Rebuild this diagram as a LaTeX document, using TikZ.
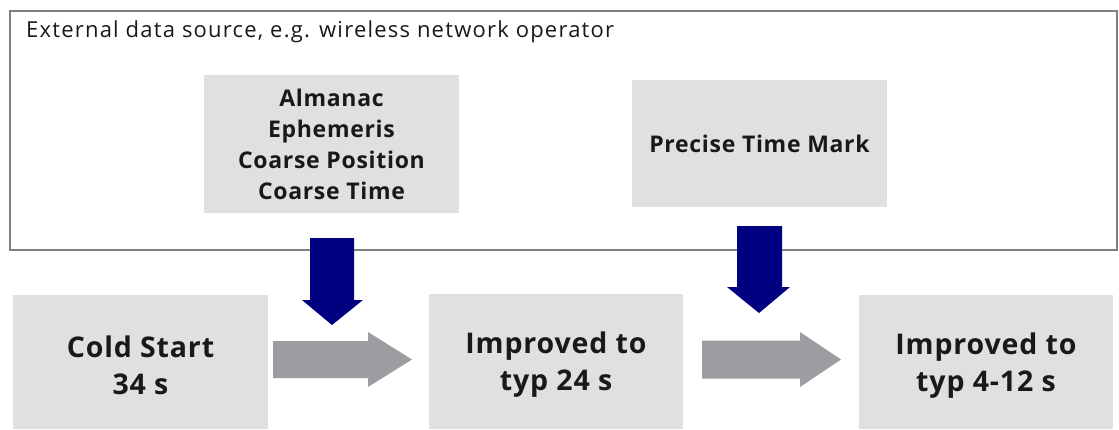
\documentclass[tikz,border=0pt]{standalone}
\usepackage{fontspec}
\setmainfont{Open Sans}
\newfontfamily\hdrfont[LetterSpace=5.5]{Open Sans}
\newfontfamily\infofont[LetterSpace=3]{Open Sans}
\newfontfamily\stagefont[LetterSpace=3]{Open Sans}
\definecolor{boxgray}{RGB}{224,224,224}
\definecolor{arrgray}{RGB}{157,157,161}
\definecolor{navyblue}{RGB}{0,0,128}
\definecolor{framegray}{RGB}{128,128,128}
\definecolor{txt}{RGB}{25,25,25}
\begin{document}
\begin{tikzpicture}[x=1pt,y=-1pt,
  frame/.style={draw=framegray,line width=1.5pt},
  infobox/.style={fill=boxgray,draw=none,inner sep=0pt,text=txt,align=center,
    font=\infofont\fontsize{23}{31}\selectfont\bfseries},
  stagebox/.style={fill=boxgray,draw=none,inner sep=0pt},
  stagetext/.style={inner sep=0pt,text=txt,align=center,
    font=\stagefont\fontsize{28.5}{37}\selectfont\bfseries},
  grayarrow/.style={fill=arrgray,draw=none},
  bluearrow/.style={fill=navyblue,draw=none}]
\useasboundingbox (0,0) rectangle (1119,429);
% external source frame
\draw[frame] (10,11) rectangle (1117,250);
\node[anchor=west,text=txt,inner sep=0pt,font=\hdrfont\fontsize{22}{26}\selectfont] (hdr) at (26,32)
  {External data source, e.g. wireless network operator};
% info boxes
\node[infobox,minimum width=255pt,minimum height=138pt] (alm) at (331.5,144)
  {Almanac\\Ephemeris\\Coarse Position\\Coarse Time};
\node[infobox,minimum width=255pt,minimum height=127pt] (ptm) at (759.5,143.5)
  {Precise Time Mark};
% stage boxes
\node[stagebox,minimum width=255pt,minimum height=134pt] (cold) at (140.5,362) {};
\node[stagebox,minimum width=254pt,minimum height=135pt] (imp1) at (556,361.5) {};
\node[stagebox,minimum width=254pt,minimum height=134pt] (imp2) at (986,362) {};
\node[stagetext] (coldtxt) at ([yshift=-3.5pt]cold.center) {Cold Start\\34 s};
\node[stagetext] (imp1txt) at ([yshift=-3.5pt]imp1.center) {Improved to\\typ 24 s};
\node[stagetext] (imp2txt) at ([yshift=-3.5pt]imp2.center) {Improved to\\typ 4-12 s};
% gray block arrows
\fill[grayarrow] (273,341) -- (368,341) -- (368,332) -- (412,359.5) -- (368,387) -- (368,378) -- (273,378) -- cycle;
\fill[grayarrow] (702,340.5) -- (800,340.5) -- (800,332) -- (841,359.5) -- (800,387) -- (800,378.5) -- (702,378.5) -- cycle;
% blue block arrows
\fill[bluearrow] (310,238) -- (354,238) -- (354,300) -- (363,300) -- (332,325) -- (302,300) -- (310,300) -- cycle;
\fill[bluearrow] (737,226) -- (782,226) -- (782,287) -- (790,287) -- (759,313) -- (727,287) -- (737,287) -- cycle;
\end{tikzpicture}
\end{document}
